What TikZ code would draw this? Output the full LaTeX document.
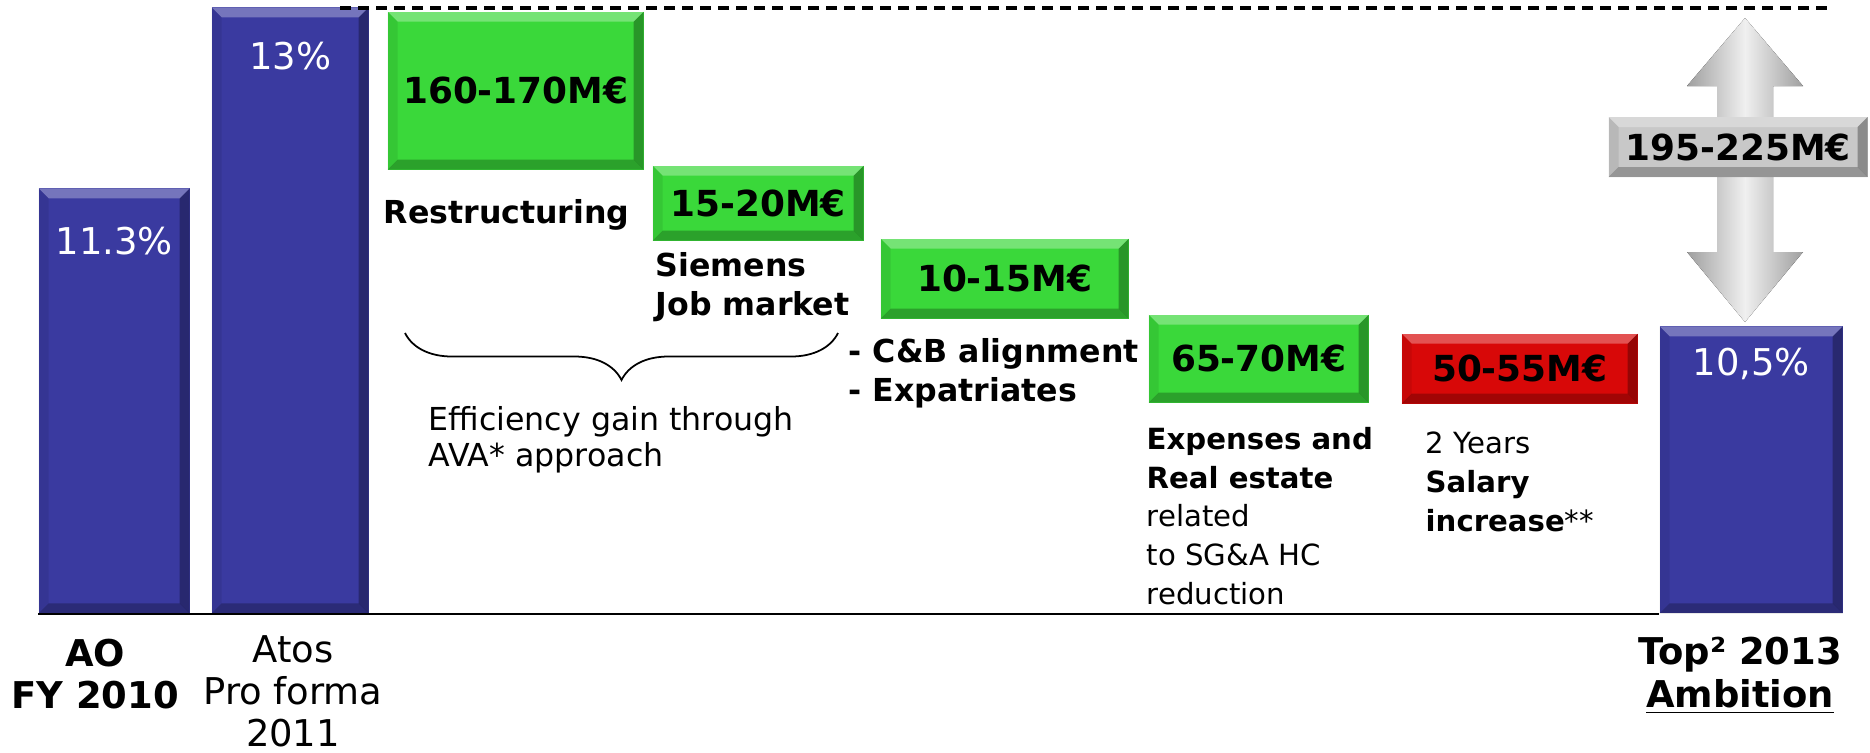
\documentclass[tikz,border=0pt]{standalone}
\usepackage{fontspec}
\setmainfont{DejaVu Sans}
\usetikzlibrary{decorations.pathreplacing,positioning}

\definecolor{barblue}{RGB}{58,58,160}
\definecolor{boxgreen}{RGB}{58,216,58}
\definecolor{boxred}{RGB}{216,8,8}
\definecolor{boxgray}{RGB}{200,200,200}
\def\bv{1.0mm}

\tikzset{
  bevel/.style={path picture={
    \path (path picture bounding box.north west) coordinate (pnw)
          (path picture bounding box.north east) coordinate (pne)
          (path picture bounding box.south west) coordinate (psw)
          (path picture bounding box.south east) coordinate (pse);
    \fill[white, opacity=.3] (pnw) -- (pne) -- ([shift={(-\bv,-\bv)}]pne) -- ([shift={(\bv,-\bv)}]pnw) -- cycle;
    \fill[black, opacity=.25] (psw) -- (pse) -- ([shift={(-\bv,\bv)}]pse) -- ([shift={(\bv,\bv)}]psw) -- cycle;
    \fill[black, opacity=.3] (pne) -- (pse) -- ([shift={(-\bv,\bv)}]pse) -- ([shift={(-\bv,-\bv)}]pne) -- cycle;
    \fill[black, opacity=.08] (pnw) -- (psw) -- ([shift={(\bv,\bv)}]psw) -- ([shift={(\bv,-\bv)}]pnw) -- cycle;
  }},
  bar/.style={fill=barblue, inner sep=0, bevel, anchor=south west},
  valbox/.style={inner sep=0, bevel, anchor=north west, font=\bfseries\fontsize{10.2}{12}\selectfont},
  pct/.style={text=white, inner sep=0, font=\fontsize{10.5}{12}\selectfont},
  lbl/.style={align=left, anchor=west, inner sep=0, font=\fontsize{9}{11}\selectfont},
  axislbl/.style={align=center, inner sep=0, font=\fontsize{10.5}{12}\selectfont},
}

\begin{document}
\begin{tikzpicture}[x=0.1mm, y=-0.1mm]
  \useasboundingbox (0,0) rectangle (1870,752);
  % baseline
  \coordinate (base0) at (38,614);
  \coordinate (base1) at (1659,614);
  \draw[line width=0.6pt] (base0) -- (base1);

  % bars
  \node[bar, minimum width=15.1mm, minimum height=42.5mm] (ao) at (38,614) {};
  \node[bar, minimum width=15.7mm, minimum height=60.6mm] (proforma) at (211,614) {};
  \node[bar, minimum width=18.3mm, minimum height=28.7mm] (ambition) at (1659,614) {};
  \node[pct] (aopct) at ([yshift=-5.3mm]ao.north) {11.3\%};
  \node[pct] (pfpct) at ([yshift=-4.9mm]proforma.north) {13\%};
  \node[pct] (ambpct) at ([yshift=-3.8mm]ambition.north) {10,5\%};

  % target line
  \coordinate (dash0) at (340,8);
  \coordinate (dash1) at (1830,8);
  \draw[line width=1pt, dash pattern=on 1.1mm off 0.7mm] (dash0) -- (dash1);

  % steps
  \node[valbox, fill=boxgreen, minimum width=25.6mm, minimum height=15.8mm] (restr) at (387,11) {160-170M€};
  \node[valbox, fill=boxgreen, minimum width=21.1mm, minimum height=7.5mm] (siemens) at (652,165) {15-20M€};
  \node[valbox, fill=boxgreen, minimum width=24.8mm, minimum height=8.0mm] (cb) at (880,238) {10-15M€};
  \node[valbox, fill=boxgreen, minimum width=22.0mm, minimum height=8.8mm] (expenses) at (1148,314) {65-70M€};
  \node[valbox, fill=boxred, minimum width=23.6mm, minimum height=7.0mm] (salary) at (1401,333) {50-55M€};

  \node[lbl] (restrtxt) at (383,215) {\textbf{Restructuring}};
  \node[lbl] (siemenstxt) at (655,287) {\textbf{Siemens}\\\textbf{Job market}};
  \node[lbl] (cbtxt) at (848,373) {\textbf{- C\&B alignment}\\\textbf{- Expatriates}};
  \node[lbl, font=\fontsize{8.3}{11}\selectfont] (exptxt) at (1146,516) {\textbf{Expenses and}\\\textbf{Real estate}\\related\\to SG\&A HC\\reduction};
  \node[lbl, font=\fontsize{8.3}{11}\selectfont] (saltxt) at (1425,482) {2 Years\\\textbf{Salary}\\\textbf{increase}**};

  % brace
  \coordinate (br0) at (405,333);
  \coordinate (br1) at (838,333);
  \draw[line width=0.5pt, decorate, decoration={brace, mirror, amplitude=4.7mm}] (br0) -- (br1);
  \node[lbl, font=\fontsize{9}{10.3}\selectfont] (ava) at (428,440) {Efficiency gain through\\AVA* approach};

  % total
  \fill[left color=gray!75, right color=gray!75, middle color=gray!12]
    (1745,18) -- (1803,86) -- (1773,86) -- (1773,252) -- (1803,252) -- (1745,322)
    -- (1687,252) -- (1717,252) -- (1717,86) -- (1687,86) -- cycle;
  \node[valbox, fill=boxgray, anchor=center, minimum width=25.9mm, minimum height=6.0mm] (total) at (1738,147) {195-225M€};

  % axis labels
  \node[axislbl] (aolbl) at (95,674) {\textbf{AO}\\\textbf{FY 2010}};
  \node[axislbl] (pflbl) at (293,691) {Atos\\Pro forma\\2011};
  \node[axislbl] (amblbl) at (1740,676) {\textbf{Top² 2013}\\\textbf{\underline{Ambition}}};
\end{tikzpicture}
\end{document}
